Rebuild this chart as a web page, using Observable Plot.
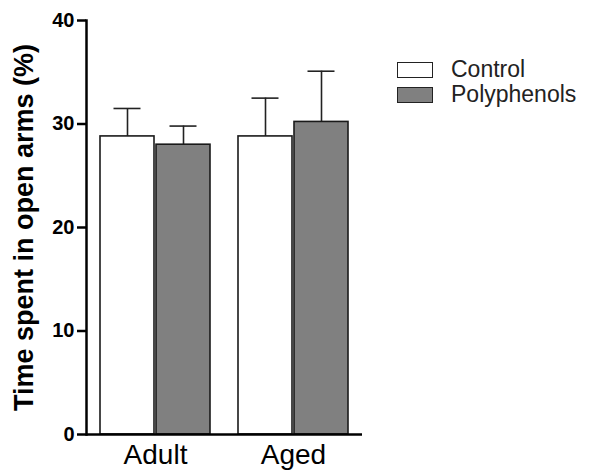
<!DOCTYPE html>
<html><head><meta charset="utf-8">
<script src="https://cdn.jsdelivr.net/npm/d3@7"></script>
<script src="https://cdn.jsdelivr.net/npm/@observablehq/plot@0.6"></script>
<style>
body{margin:0;background:#fff;}
#wrap{position:relative;width:590px;height:474px;}
#wrap svg{display:block;}
.legend{position:absolute;left:397px;top:57px;font-family:"Liberation Sans",Arial,sans-serif;font-size:23px;color:#222;}
.row{display:flex;align-items:center;height:25px;}
.sw{width:34px;height:14px;border:1.5px solid #222;margin-right:18px;}
[aria-label="y-axis label"] text{font-size:27px !important;}
[aria-label="y-axis tick label"]{font-size:20px !important;}
[aria-label="y-axis tick label"] text{font-size:20px !important;}
</style></head>
<body><div id="wrap"></div>
<script>
const groups = ["Adult", "Aged"];
const series = ["Control", "Polyphenols"];
const controlMean = [28.8, 28.8];
const controlErr = [2.7, 3.7];
const polyMean = [28.0, 30.2];
const polyErr = [1.8, 4.9];
const seriesColors = ["#ffffff", "#808080"];
const yTicks = [0, 10, 20, 30, 40];

const data = [];
groups.forEach((g, i) => {
  data.push({group: g, series: series[0], mean: controlMean[i], err: controlErr[i]});
  data.push({group: g, series: series[1], mean: polyMean[i], err: polyErr[i]});
});

const chart = Plot.plot({
  width: 590, height: 474,
  marginLeft: 86, marginRight: 228, marginTop: 20, marginBottom: 40,
  style: {fontFamily: "'Liberation Sans', Arial, sans-serif", color: "#000", background: "#fff"},
  fx: {domain: groups, padding: 0, label: null},
  x: {domain: series, paddingInner: 0.035, paddingOuter: 0.237, axis: null},
  y: {domain: [0, 40]},
  color: {domain: series, range: seriesColors},
  marks: [
    Plot.ruleX(data, {fx: "group", x: "series", y1: "mean", y2: d => d.mean + d.err, stroke: "#222", strokeWidth: 1.6}),
    Plot.tickY(data, {fx: "group", x: "series", y: d => d.mean + d.err, stroke: "#222", strokeWidth: 1.6, insetLeft: 13.5, insetRight: 13.5}),
    Plot.barY(data, {fx: "group", x: "series", y: "mean", fill: "series", stroke: "#1a1a1a", strokeWidth: 1.6}),
    Plot.ruleY([0], {stroke: "#000", strokeWidth: 2.5}),
    Plot.frame({anchor: "left", facetAnchor: "left", stroke: "#000", strokeWidth: 2.5}),
    Plot.axisY({ticks: yTicks, tickSize: 9, tickPadding: 3, fontSize: 20, fontWeight: "bold", strokeWidth: 2.5,
      label: "Time spent in open arms (%)", labelAnchor: "center", labelArrow: "none", labelOffset: 73}),
    Plot.axisFx({anchor: "bottom", tickSize: 0, tickPadding: 10, fontSize: 28, label: null})
  ]
});
const wrap = document.getElementById("wrap");
wrap.appendChild(chart);
const legend = document.createElement("div");
legend.className = "legend";
series.forEach((s, i) => {
  const row = document.createElement("div");
  row.className = "row";
  const sw = document.createElement("div");
  sw.className = "sw";
  sw.style.background = seriesColors[i];
  const t = document.createElement("span");
  t.textContent = s;
  row.appendChild(sw); row.appendChild(t);
  legend.appendChild(row);
});
wrap.appendChild(legend);
</script>
</body></html>
